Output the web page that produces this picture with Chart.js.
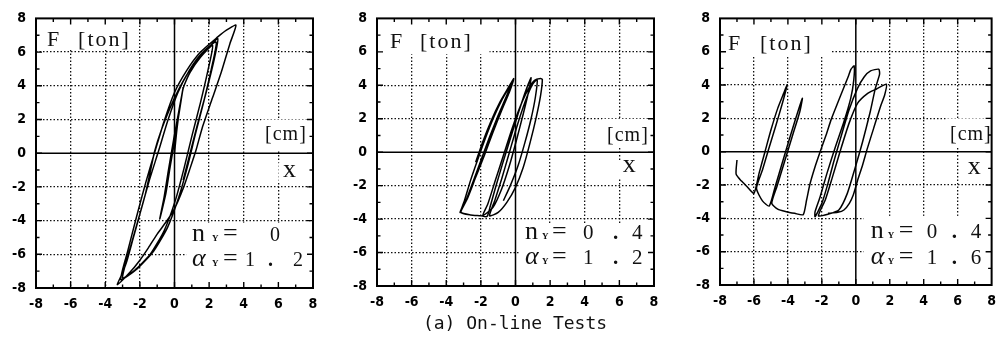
<!DOCTYPE html>
<html>
<head>
<meta charset="utf-8">
<script src="https://cdn.jsdelivr.net/npm/chart.js@4"></script>
<style>
html, body { margin: 0; padding: 0; background: #fff; }
#wrap { position: relative; width: 1004px; height: 349px; overflow: hidden; }
#wrap canvas { position: absolute; top: 0; }
#caption { position: absolute; left: 365px; width: 300px; top: 312px; text-align: center;
  font: 18px 'DejaVu Sans Mono', monospace; color: #111; white-space: pre; }
</style>
</head>
<body>
<div id="wrap">
  <canvas id="c1" width="330" height="320" style="left:0px"></canvas>
  <canvas id="c2" width="330" height="320" style="left:341px"></canvas>
  <canvas id="c3" width="320" height="320" style="left:684px"></canvas>
  <div id="caption">(a) On-line Tests</div>
</div>
<script>
// F - x loops, n_Y = 0, alpha_Y = 1.2
var p1X = [0, 0.15, 0.35, 0.5, 0.3, 0.05, -0.25, -0.5, -0.85, -0.6, -0.35, -0.05, 0.25, 0.45, 0.55,
  0.9, 1.5, 2.2,
  1.95, 1.5, 1.0, 0.55, 0.05, -0.6, -1.4, -2.3, -3.0,
  -2.55, -2.0, -1.45, -0.9, -0.4, 0.2, 0.85, 1.55, 2.4,
  2.15, 1.7, 1.2, 0.75, 0.25, -0.4, -1.2, -2.2, -3.1,
  -2.7, -2.2, -1.65, -1.1, -0.6, 0.0, 0.7, 1.5, 2.5, 3.0, 3.55,
  3.2, 2.7, 2.2, 1.6, 1.25, 0.9, 0.5, 0.0, -0.5, -1.0, -1.5, -2.0, -2.6, -3.3,
  -3.0, -2.75, -2.4, -2.05, -1.7, -1.4, -1.15, -0.75, -0.25, 0.25, 0.8, 1.4, 1.9, 2.5,
  2.3, 1.8, 1.3, 0.9, 0.5];
var p1Y = [0, 1.5, 3.0, 3.9, 2.6, 1.0, -0.8, -2.4, -3.9, -2.6, -1.0, 0.8, 2.5, 3.6, 4.0,
  4.8, 5.7, 6.4,
  5.0, 3.0, 1.0, -0.9, -2.8, -4.6, -6.0, -6.95, -7.4,
  -5.6, -3.6, -1.6, 0.2, 1.9, 3.6, 4.9, 5.9, 6.6,
  5.1, 3.1, 1.1, -0.8, -2.6, -4.4, -5.8, -6.9, -7.5,
  -5.8, -3.8, -1.7, 0.2, 1.9, 3.6, 4.9, 6.0, 6.9, 7.3, 7.6,
  6.5, 4.8, 3.3, 1.5, 0.2, -0.9, -2.1, -3.3, -4.1, -4.8, -5.6, -6.35, -7.1, -7.8,
  -7.1, -6.4, -5.1, -3.8, -2.5, -1.1, 0.1, 1.4, 2.7, 3.8, 4.8, 5.6, 6.2, 6.8,
  5.6, 3.5, 1.6, 0.0, -1.6];

// n_Y = 0.4, alpha_Y = 1.2
var p2X = [-2.3, -1.9, -1.4, -0.9, -0.45, -0.1,
  -0.35, -0.8, -1.3, -1.8, -2.3, -2.75, -3.2,
  -2.95, -2.6, -2.2, -1.75, -1.25, -0.75, -0.3, -0.15,
  -0.5, -1.0, -1.5, -2.0, -2.5, -2.9, -3.15,
  -2.6, -2.0, -1.65,
  -1.45, -1.15, -0.75, -0.3, 0.15, 0.5, 0.75, 0.9,
  0.75, 0.45, 0.05, -0.35, -0.8, -1.3, -1.9,
  -1.6, -1.2, -0.7, -0.2, 0.3, 0.75, 1.1, 1.45, 1.55,
  1.45, 1.2, 0.85, 0.45, 0.0, -0.5, -1.0, -1.5,
  -1.2, -0.8, -0.35, 0.1, 0.55, 0.95, 1.25,
  1.15, 0.9, 0.55, 0.15, -0.3, -0.7];
var p2Y = [-0.6, 0.6, 1.9, 3.0, 3.8, 4.4,
  3.6, 2.5, 1.2, -0.2, -1.5, -2.7, -3.6,
  -2.9, -1.7, -0.5, 0.8, 2.1, 3.2, 4.0, 4.3,
  3.4, 2.2, 0.9, -0.5, -1.9, -3.0, -3.6,
  -3.75, -3.8, -3.85,
  -3.2, -2.1, -0.7, 0.8, 2.3, 3.4, 4.1, 4.45,
  3.6, 2.3, 0.7, -0.8, -2.2, -3.3, -3.8,
  -3.1, -1.8, -0.2, 1.4, 2.8, 3.8, 4.3, 4.4, 4.35,
  3.4, 2.1, 0.6, -0.9, -2.1, -3.0, -3.6, -3.8,
  -2.9, -1.6, 0.0, 1.6, 3.0, 4.0, 4.35,
  3.3, 2.0, 0.6, -0.8, -2.0, -2.9];

// n_Y = 0.4, alpha_Y = 1.6
var p3X = [-7.0, -7.05, -6.75, -6.4, -6.0,
  -5.7, -5.35, -5.0, -4.6, -4.25, -4.05,
  -4.3, -4.7, -5.15, -5.5, -5.85, -5.5, -5.1,
  -4.75, -4.4, -4.05, -3.6, -3.15,
  -3.3, -3.75, -4.2, -4.65, -4.95, -4.6, -4.1, -3.6, -3.1,
  -2.9, -2.7, -2.4, -2.1, -1.75, -1.45, -1.1, -0.77, -0.45, -0.29, -0.1,
  -0.12, -0.3, -0.7, -1.2, -1.7, -2.1, -2.4, -2.4,
  -2.0, -1.64, -1.3, -0.9, -0.4, 0.1, 0.5, 0.87, 1.35, 1.4,
  1.15, 0.85, 0.4, -0.05, -0.5, -1.0, -1.64, -2.2,
  -1.8, -1.4, -0.9, -0.4, 0.1, 0.7, 1.2, 1.8,
  1.7, 1.45, 1.05, 0.68, 0.4, 0.1, -0.15, -0.38, -0.7, -1.06, -1.64];
var p3Y = [-0.5, -1.35, -1.75, -2.1, -2.5,
  -1.3, 0.0, 1.3, 2.6, 3.5, 4.0,
  3.0, 1.6, 0.1, -1.1, -2.2, -2.95, -3.26,
  -2.1, -0.9, 0.3, 1.8, 3.2,
  2.4, 0.9, -0.6, -2.1, -3.1, -3.45, -3.6, -3.7, -3.78,
  -2.9, -1.94, -0.9, 0.0, 1.0, 1.94, 2.85, 3.69, 4.5, 4.94, 5.15,
  4.3, 3.2, 1.8, 0.3, -1.3, -2.7, -3.6, -3.9,
  -3.1, -1.9, -0.6, 0.8, 2.5, 3.8, 4.5, 4.85, 4.95, 4.65,
  3.8, 2.4, 0.6, -1.0, -2.5, -3.5, -3.75, -3.85,
  -2.9, -1.6, 0.1, 1.7, 2.9, 3.5, 3.75, 4.05,
  3.4, 2.7, 1.4, 0.2, -0.8, -1.74, -2.6, -3.1, -3.5, -3.64, -3.7];

var axisMin = -8, axisMax = 8, axisStep = 2;

var serif = '"Liberation Serif", "DejaVu Serif", serif';
var tickFont = '"DejaVu Sans Condensed", "Liberation Sans Narrow", "DejaVu Sans", sans-serif';

// label text for one panel: F [ton], [cm], x, and the n_Y / alpha_Y block
function panelTexts(t) {
  var out = [
    {s: 'F', x: t.f[0], y: t.f[1], font: '22px ' + serif},
    {s: '[ton]', x: t.f[0], y: t.f[1], dx: t.tonDx, font: '22px ' + serif, ls: 2},
    {s: '[cm]', x: t.cm[0], y: t.cm[1], font: '20px ' + serif, ls: 1},
    {s: 'x', x: t.xl[0], y: t.xl[1], font: '26px ' + serif}
  ];
  var rows = [['n', t.nVal], ['\u03b1', t.aVal]];
  rows.forEach(function (r, i) {
    var y = i === 0 ? t.n[1] : t.n[2];
    out.push({s: r[0], x: t.n[0], y: y, font: (i === 0 ? '' : 'italic ') + '26px ' + serif});
    out.push({s: 'Y', x: t.n[0], y: y, dx: t.subDx, font: 'bold 9px ' + serif});
    out.push({s: '=', x: t.n[0], y: y, dx: t.eqDx, font: '26px ' + serif});
    r[1].forEach(function (d) {
      out.push({s: d[0], x: t.n[0], y: y, dx: d[1], font: (d[0] === '.' ? 'bold ' : '') + t.digit + 'px ' + serif});
    });
  });
  return out;
}

function decor(boxes, texts) {
  return {
    id: 'decor',
    beforeDatasetsDraw: function (chart) {
      var ctx = chart.ctx, a = chart.chartArea, sx = chart.scales.x, sy = chart.scales.y;
      ctx.save();
      ctx.fillStyle = '#fff';
      boxes.forEach(function (b) {
        var x0 = sx.getPixelForValue(b[0]), x1 = sx.getPixelForValue(b[1]);
        var y0 = sy.getPixelForValue(b[2]), y1 = sy.getPixelForValue(b[3]);
        ctx.fillRect(Math.min(x0, x1), Math.min(y0, y1), Math.abs(x1 - x0), Math.abs(y1 - y0));
      });
      // solid zero axes
      var zx = sx.getPixelForValue(0), zy = sy.getPixelForValue(0);
      ctx.strokeStyle = '#000';
      ctx.lineWidth = 1.5;
      ctx.beginPath();
      ctx.moveTo(zx, a.top); ctx.lineTo(zx, a.bottom);
      ctx.moveTo(a.left, zy); ctx.lineTo(a.right, zy);
      ctx.stroke();
      ctx.fillStyle = '#111';
      ctx.textBaseline = 'alphabetic';
      texts.forEach(function (t) {
        ctx.font = t.font;
        ctx.letterSpacing = (t.ls || 0) + 'px';
        ctx.fillText(t.s, sx.getPixelForValue(t.x) + (t.dx || 0), sy.getPixelForValue(t.y));
      });
      ctx.restore();
    },
    afterDatasetsDraw: function (chart) {
      var ctx = chart.ctx, a = chart.chartArea, sx = chart.scales.x, sy = chart.scales.y;
      ctx.save();
      ctx.strokeStyle = '#000';
      ctx.lineWidth = 2;
      ctx.strokeRect(a.left, a.top, a.right - a.left, a.bottom - a.top);
      // inward ticks on all four sides, long at even values
      ctx.lineWidth = 1.4;
      ctx.beginPath();
      for (var v = axisMin + 1; v < axisMax; v++) {
        var len = v % 2 === 0 ? 6 : 3.5;
        var px = sx.getPixelForValue(v), py = sy.getPixelForValue(v);
        ctx.moveTo(px, a.bottom); ctx.lineTo(px, a.bottom - len);
        ctx.moveTo(px, a.top); ctx.lineTo(px, a.top + len);
        ctx.moveTo(a.left, py); ctx.lineTo(a.left + len, py);
        ctx.moveTo(a.right, py); ctx.lineTo(a.right - len, py);
      }
      ctx.stroke();
      ctx.restore();
    }
  };
}

function gridColor(c) {
  var v = c.tick ? c.tick.value : null;
  return (v === 0 || v === axisMin || v === axisMax) ? 'rgba(0,0,0,0)' : '#111';
}

function axis(extra) {
  var o = {
    type: 'linear', min: axisMin, max: axisMax,
    ticks: {stepSize: axisStep, autoSkip: false, maxRotation: 0, color: '#000',
      font: {family: tickFont, size: 14, weight: 'bold'}},
    grid: {drawTicks: false, color: gridColor, lineWidth: 1.3},
    border: {display: false, dash: [1.5, 2]}
  };
  for (var k in extra) o[k] = extra[k];
  return o;
}

function makePanel(id, xs, ys, pad, xAxisH, boxes, texts) {
  var pts = xs.map(function (v, i) { return {x: v, y: ys[i]}; });
  var xa = axis({afterFit: function (s) { s.height = xAxisH; }});
  xa.ticks.padding = 8;
  var ya = axis({afterFit: function (s) { s.width = 36; }});
  ya.ticks.padding = 10;
  return new Chart(document.getElementById(id), {
    type: 'scatter',
    data: {datasets: [{data: pts, showLine: true, borderColor: '#000', borderWidth: 1.5,
      pointRadius: 0, tension: 0.2, borderJoinStyle: 'round'}]},
    options: {
      responsive: false, animation: false,
      layout: {padding: {top: pad[0], right: pad[1], bottom: 0, left: 0}},
      plugins: {legend: {display: false}, tooltip: {enabled: false}},
      scales: {x: xa, y: ya}
    },
    plugins: [decor(boxes, texts)]
  });
}

makePanel('c1', p1X, p1Y, [14, 17], 32,
  [[-8, -2.4, 8, 6.15], [5.0, 8, 2.0, 0.15], [6.0, 7.4, -0.55, -1.75], [0.68, 8, -4.12, -8]],
  panelTexts({f: [-7.36, 6.37], tonDx: 31, cm: [5.23, 0.76], xl: [6.27, -1.4],
    n: [1.01, -5.2, -6.72], subDx: 20, eqDx: 31, digit: 20,
    nVal: [['0', 78]], aVal: [['1', 53], ['.', 76], ['2', 101]]}));

makePanel('c2', p2X, p2Y, [9, 17], 34,
  [[-8, -1.5, 8, 5.85], [5.0, 8, 2.0, 0.3], [5.9, 7.3, -0.5, -1.6], [0.26, 8, -4.3, -8]],
  panelTexts({f: [-7.25, 6.21], tonDx: 30, cm: [5.29, 0.66], xl: [6.2, -1.18],
    n: [0.55, -5.17, -6.67], subDx: 17, eqDx: 27, digit: 21,
    nVal: [['0', 58], ['.', 88], ['4', 107]], aVal: [['1', 58], ['.', 88], ['2', 107]]}));

makePanel('c3', p3X, p3Y, [9, 10], 35,
  [[-8, -1.5, 8, 5.8], [5.3, 8, 2.0, 0.25], [6.3, 7.6, -0.5, -1.6], [0.47, 8, -3.85, -8]],
  panelTexts({f: [-7.53, 6.09], tonDx: 32, cm: [5.55, 0.7], xl: [6.6, -1.33],
    n: [0.88, -5.2, -6.72], subDx: 17, eqDx: 28, digit: 21,
    nVal: [['0', 56], ['.', 81], ['4', 100]], aVal: [['1', 56], ['.', 81], ['6', 100]]}));
</script>
</body>
</html>
